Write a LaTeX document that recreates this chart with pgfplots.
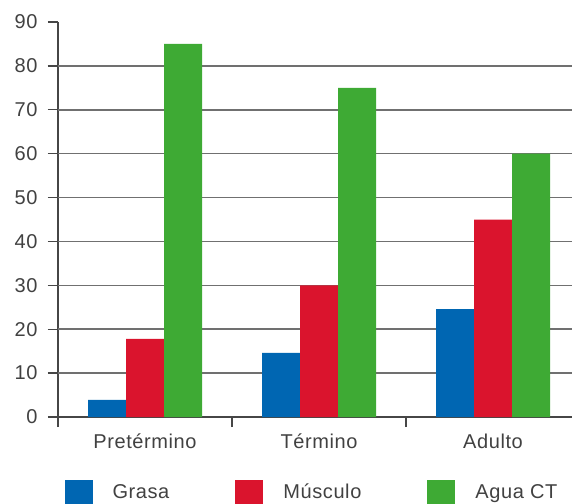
\documentclass[border=0pt]{standalone}
\usepackage{pgfplots}
\pgfplotsset{compat=1.18}
\usepackage{fontspec}
\setmainfont{Liberation Sans}[LetterSpace=3]
\definecolor{cblue}{RGB}{0,102,178}
\definecolor{cred}{RGB}{218,20,45}
\definecolor{cgreen}{RGB}{62,170,52}
\definecolor{cgrid}{RGB}{112,112,112}
\definecolor{caxis}{RGB}{70,70,70}
\definecolor{ctext}{RGB}{65,65,65}
\begin{document}
\begin{tikzpicture}
\useasboundingbox (-58bp,-87bp) rectangle (514bp,417bp);
\begin{axis}[
  at={(0,0)}, anchor=south west,
  scale only axis, width=514bp, height=395bp,
  xmin=-0.5, xmax=2.454, ymin=0, ymax=90,
  axis x line*=bottom, axis y line*=left,
  axis line style={caxis, line width=1.6bp, -},
  ytick={0,10,...,90},
  xtick={-0.5,0.5,1.5,2.5}, xticklabels={},
  extra x ticks={0,1,2},
  extra x tick labels={Pretérmino,Término,Adulto},
  extra x tick style={major tick length=0pt, xticklabel style={yshift=-13bp}},
  extra y ticks={10,20,...,80},
  extra y tick labels={},
  extra y tick style={grid=major, major grid style={cgrid, line width=1.6bp}},
  tick align=outside,
  major tick length=10bp,
  tick style={caxis, line width=1.4bp},
  /pgf/number format/assume math mode=true,
  ticklabel style={font=\fontsize{20bp}{23bp}\selectfont, text=ctext},
  yticklabel style={xshift=-7bp},
  ybar=0pt, bar width=38bp,
  legend columns=3,
  legend style={at={(0.494,-0.19)}, anchor=center, draw=none, fill=none,
    font=\fontsize{20bp}{23bp}\selectfont, text=ctext,
    /tikz/every even column/.append style={column sep=64bp}},
  legend image code/.code={\fill[#1] (0bp,-12bp) rectangle (28bp,12bp);},
  legend cell align=left,
  every axis legend/.append style={inner sep=0pt},
]
\addplot[fill=cblue, draw=none] coordinates {(0,3.9) (1,14.6) (2,24.6)};
\addlegendentry{\hspace{18bp}Grasa}
\addplot[fill=cred, draw=none] coordinates {(0,17.8) (1,30) (2,45)};
\addlegendentry{\hspace{18bp}Músculo}
\addplot[fill=cgreen, draw=none] coordinates {(0,85) (1,75) (2,60)};
\addlegendentry{\hspace{18bp}Agua CT}
\end{axis}
\end{tikzpicture}
\end{document}
